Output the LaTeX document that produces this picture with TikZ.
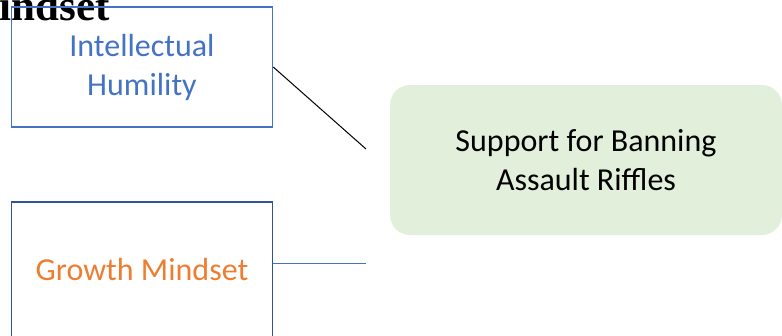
\documentclass[tikz,border=0pt]{standalone}
\usepackage{fontspec}
\setmainfont{Carlito}
\newfontfamily\titlefont{Liberation Serif}
\definecolor{boxblue}{HTML}{4472C4}
\definecolor{boxdark}{HTML}{2F5597}
\definecolor{txtorange}{HTML}{ED7D31}
\definecolor{greenfill}{HTML}{E2EFDA}
\begin{document}
\begin{tikzpicture}[x=1pt,y=-1pt,
  varbox/.style={draw, line width=1.5pt, minimum width=261pt, minimum height=120pt, inner sep=0pt, align=center, font=\fontsize{32}{39}\selectfont},
  outbox/.style={fill=greenfill, rounded corners=20pt, minimum width=392pt, minimum height=150pt, inner sep=0pt, align=center, font=\fontsize{32}{39}\selectfont},
  link/.style={line width=1pt}]
\useasboundingbox (0,0) rectangle (782,335);
\clip (0,0) rectangle (782,335);
\node[anchor=base east, font=\titlefont\bfseries\fontsize{43}{50}\selectfont, inner sep=0pt] (title) at (110,20) {Mindset};
\node[varbox, draw=boxblue, text=boxblue] (b1) at (142,67) {Intellectual\\Humility};
\node[varbox, draw=boxdark, text=txtorange, minimum height=135pt] (b2) at (142,269.5) {Growth Mindset};
\node[outbox] (out) at (586,160) {Support for Banning\\Assault Riffles};
\coordinate (c1) at (366,149);
\coordinate (c2) at (366,263.5);
\draw[link, black] (b1.east) -- (c1);
\draw[link, boxblue] (c2 -| b2.east) -- (c2);
\end{tikzpicture}
\end{document}
